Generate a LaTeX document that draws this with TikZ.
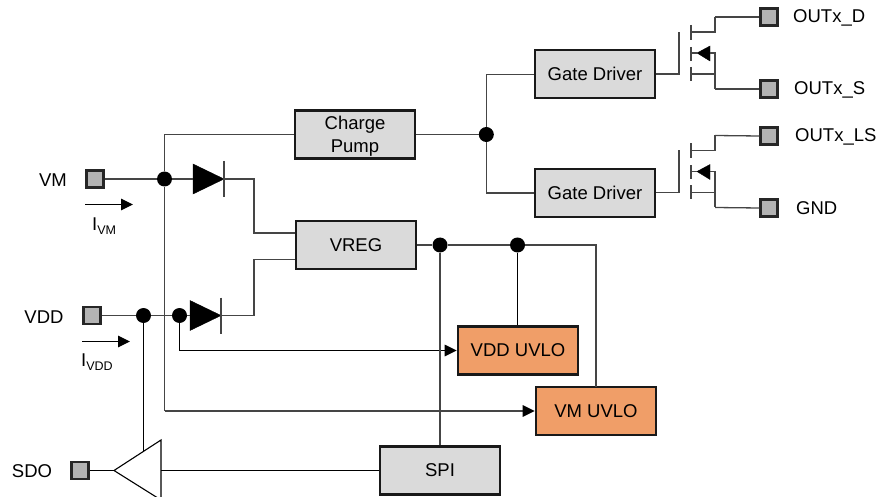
\documentclass[tikz,border=0pt]{standalone}
\usepackage{fontspec}
\setmainfont{Liberation Sans}
\usetikzlibrary{arrows.meta,calc}
\definecolor{wire}{HTML}{454545}
\definecolor{boxfill}{HTML}{DADADA}
\definecolor{padfill}{HTML}{B3B3B3}
\definecolor{uvlo}{HTML}{F09E68}
\newcommand{\subtxt}[1]{\raisebox{-4pt}{\fontsize{12.5}{12.5}\selectfont #1}}
\tikzset{
  x=1pt,y=-1pt,
  wireline/.style={draw=wire,line width=1.3pt},
  blackline/.style={draw=black,line width=1.1pt},
  block/.style={draw=black!90,line width=2.2pt,fill=boxfill,minimum width=120.4pt,minimum height=48pt,inner sep=0pt,align=center,font=\fontsize{18.5}{23}\selectfont},
  uvloblock/.style={block,fill=uvlo},
  pad/.style={draw=black!85,line width=2.2pt,fill=padfill,minimum size=17pt,inner sep=0pt},
  junction/.style={circle,fill=black,minimum size=15pt,inner sep=0pt},
  lab/.style={inner sep=0pt,font=\fontsize{18.5}{23}\selectfont},
  tip/.style={-{Triangle[length=12pt,width=11.5pt,color=black,fill=black]}},
  solid tri/.style={fill=black,draw=black,line width=.4pt,line join=miter},
}
\begin{document}
\begin{tikzpicture}
\clip (0,0) rectangle (878,497);
\useasboundingbox (0,0) rectangle (878,497);
% blocks
\node[block] (cp) at (355,134.5) {\rule{0pt}{16pt}Charge\\Pump};
\node[block] (gd1) at (595,74.2) {Gate Driver};
\node[block] (gd2) at (595,193) {Gate Driver};
\node[block] (vreg) at (356,245) {VREG};
\node[uvloblock] (vdduv) at (518,350.5) {VDD UVLO};
\node[uvloblock] (vmuv) at (596,411) {VM UVLO};
\node[block] (spi) at (440,470.5) {SPI};
% pads
\node[pad] (pvm) at (95,179) {};
\node[pad] (pvdd) at (92,315.5) {};
\node[pad] (psdo) at (80,470.5) {};
\node[pad] (pd) at (769,17) {};
\node[pad] (ps) at (769,89) {};
\node[pad] (pls) at (769,136) {};
\node[pad] (pgnd) at (769,208) {};
% labels
\node[lab] (tvm) at (53,180) {VM};
\node[lab] (tvdd) at (44,317) {VDD};
\node[lab] (tsdo) at (32,471) {SDO};
\node[lab,anchor=west] (td) at (793,17.5) {OUTx\_D};
\node[lab,anchor=west] (ts) at (794,89.5) {OUTx\_S};
\node[lab,anchor=west] (tls) at (795,136.5) {OUTx\_LS};
\node[lab,anchor=west] (tg) at (796,208.5) {GND};
\node[lab,anchor=west] (ivm) at (92,226) {I\subtxt{VM}};
\node[lab,anchor=west] (ivdd) at (81,362.5) {I\subtxt{VDD}};
% junctions
\node[junction] (jvm) at (164.5,179) {};
\node[junction] (jvdd) at (143.5,315.5) {};
\node[junction] (jd2) at (179.5,315.5) {};
\node[junction] (jcp) at (486.3,134.5) {};
\node[junction] (jr1) at (440,245) {};
\node[junction] (jr2) at (517.5,245) {};
% diodes
\coordinate (d1a) at (193,179);
\coordinate (d1k) at (224,179);
\coordinate (d2a) at (190,315.5);
\coordinate (d2k) at (221,315.5);
\draw[solid tri] (d1a) ++(0,-15) -- (d1k) -- ($(d1a)+(0,15)$) -- cycle;
\draw[solid tri] (d2a) ++(0,-15) -- (d2k) -- ($(d2a)+(0,15)$) -- cycle;
\draw[wireline] ($(d1k)+(0,-18)$) -- ($(d1k)+(0,18)$);
\draw[wireline] ($(d2k)+(0,-18)$) -- ($(d2k)+(0,18)$);
% buffer
\coordinate (bt) at (114,470.5);
\coordinate (bu) at (161,440);
\coordinate (bl) at (161,500);
\draw[blackline,fill=white,line join=miter] (bt) -- (bu) -- (bl) -- cycle;
% wires
\draw[wireline] (pvm.east) -- (jvm) -- (d1a);
\draw[wireline] (jvm) -- (jvm|-cp.west) -- (cp.west);
\coordinate (muv) at (jvm|-vmuv.west);
\draw[wireline] (jvm) -- (muv);
\draw[wireline,tip] (muv) -- (vmuv.west);
\draw[wireline] (d1k) -- (254,179) -- (254,233) -- (vreg.west|-0,233);
\draw[wireline] (pvdd.east) -- (jvdd) -- (jd2) -- (d2a);
\draw[wireline] (d2k) -- (254,315.5) -- (254,259.5) -- (vreg.west|-0,259.5);
\draw[blackline,tip] (jd2) -- (jd2|-vdduv.west) -- (vdduv.west);
\draw[blackline] (jvdd) -- (143.5,451);
\draw[blackline] (psdo.east) -- (bt);
\draw[blackline] (161,470.5) -- (spi.west);
\draw[wireline] (cp.east) -- (jcp);
\draw[wireline] (jcp) -- (jcp|-gd1.west) -- (gd1.west);
\draw[wireline] (jcp) -- (jcp|-gd2.west) -- (gd2.west);
\draw[wireline] (vreg.east) -- (jr1) -- (jr2) -- (596,245) -- (596,387);
\draw[blackline] (jr2) -- (jr2|-vdduv.north);
\draw[wireline] (jr1) -- (jr1|-spi.north);
% current arrows
\coordinate (a1s) at (85,204.5);
\coordinate (a1e) at (133,204.5);
\coordinate (a2s) at (82,341.5);
\coordinate (a2e) at (130,341.5);
\draw[blackline,tip] (a1s) -- (a1e);
\draw[blackline,tip] (a2s) -- (a2e);
% MOSFETs
\foreach \dy/\gd/\up/\dn in {0/gd1/pd/ps,118.5/gd2/pls/pgnd}{
  \begin{scope}[yshift=-\dy pt]
    \coordinate (g) at (679,74);
    \coordinate (gt) at (679,32);
    \draw[wireline] (679,74.6) -- (gt);
    \draw[wireline] (691,25) -- (691,40);
    \draw[wireline] (691,47) -- (691,61);
    \draw[wireline] (691,67) -- (691,81);
    \draw[solid tri] (697,53) -- (710,46) -- (710,61) -- cycle;
    \draw[wireline] (691,53) -- (697,53);
    \coordinate (dc) at (691,32);
    \coordinate (sc) at (691,74);
    \coordinate (ac) at (710,53);
    \coordinate (sb) at (715,89);
    \coordinate (dt) at (715,17);
    \draw[wireline] (ac) -- (715,53) -- (sb);
    \draw[wireline] (sc) -- (715,74);
    \draw[wireline] (dc) -- (715,32) -- (dt);
  \end{scope}
  \draw[wireline] (\gd.east|-g) -- (g);
  \draw[wireline] (dt) -- (\up.west);
  \draw[wireline] (sb) -- (\dn.west);
}
\end{tikzpicture}
\end{document}
